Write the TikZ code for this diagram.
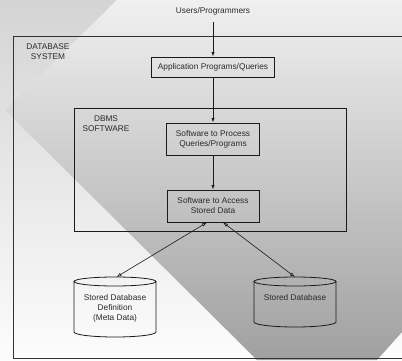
\documentclass[tikz,border=0pt]{standalone}
\usepackage{fontspec}
\setmainfont{Liberation Sans}
\usetikzlibrary{arrows.meta}
\definecolor{bgtop}{HTML}{D4D4D4}
\definecolor{bgbot}{HTML}{FCFCFC}
\definecolor{chtop}{HTML}{F0F0F0}
\definecolor{chbot}{HTML}{A0A0A0}
\definecolor{txt}{HTML}{2A2A2A}
\definecolor{ln}{HTML}{1A1A1A}
\begin{document}
\begin{tikzpicture}[x=1pt,y=1pt,
  lbl/.style={text=txt, font=\fontsize{8.3}{10}\selectfont, align=center, inner sep=0pt},
  box/.style={draw=ln, line width=0.8pt, inner sep=0pt, align=center},
  frame/.style={draw=black!80, line width=0.8pt},
  cyl/.style={draw=ln, line width=0.8pt},
  arr/.style={draw=ln, line width=0.7pt, -{Latex[length=4.5pt,width=3.2pt]}},
  darr/.style={draw=ln, line width=0.6pt, {Latex[open,length=5pt,width=3.6pt]}-{Latex[open,length=5pt,width=3.6pt]}}]
\useasboundingbox (0,0) rectangle (402,360);
% background
\shade[top color=bgtop, bottom color=bgbot] (0,0) rectangle (402,360);
\shade[top color=chtop, bottom color=chbot] (117,360) -- (402,360) -- (402,28) -- (377,0) -- (257,0) -- (5,250) -- cycle;
% outer frame
\draw[frame] (402,324) -- (13,324) -- (13,1.5) -- (402,1.5);
\node[lbl] (dbsys) at (48,308) {DATABASE\\SYSTEM};
% DBMS box
\node[box, minimum width=272pt, minimum height=123pt] (dbms) at (210,190.5) {};
\node[lbl] (dbmslbl) at (106,236) {DBMS\\SOFTWARE};
% nodes
\node[lbl] (users) at (213,349) {Users/Programmers};
\node[box, lbl, minimum width=123pt, minimum height=20pt] (app) at (213,293) {Application Programs/Queries};
\node[box, lbl, minimum width=92.5pt, minimum height=32pt] (proc) at (213,221) {Software to Process\\Queries/Programs};
\node[box, lbl, minimum width=92pt, minimum height=32pt] (acc) at (213,154) {Software to Access\\Stored Data};
% cylinders
\draw[cyl] (115,78.5) ellipse [x radius=41, y radius=4.5];
\draw[cyl] (74,78.5) -- (74,28) arc[start angle=180, end angle=360, x radius=41, y radius=5] -- (156,78.5);
\node[lbl] (cylL) at (115,52) {Stored Database\\Definition\\(Meta Data)};
\coordinate (cylLtop) at (116.5,83);
\draw[cyl] (295,78.5) ellipse [x radius=41, y radius=4.5];
\draw[cyl] (254,78.5) -- (254,38) arc[start angle=180, end angle=360, x radius=41, y radius=5] -- (336,78.5);
\node[lbl] (cylR) at (295,62) {Stored Database};
\coordinate (cylRtop) at (295,83);
% connectors
\draw[arr] ([yshift=-7pt]users.south) -- (app.north);
\draw[arr] (app.south) -- (proc.north);
\draw[arr] (proc.south) -- (acc.north);
\draw[darr] ([xshift=-6pt]acc.south) -- (cylLtop);
\draw[darr] ([xshift=10pt]acc.south) -- (cylRtop);
\end{tikzpicture}
\end{document}
